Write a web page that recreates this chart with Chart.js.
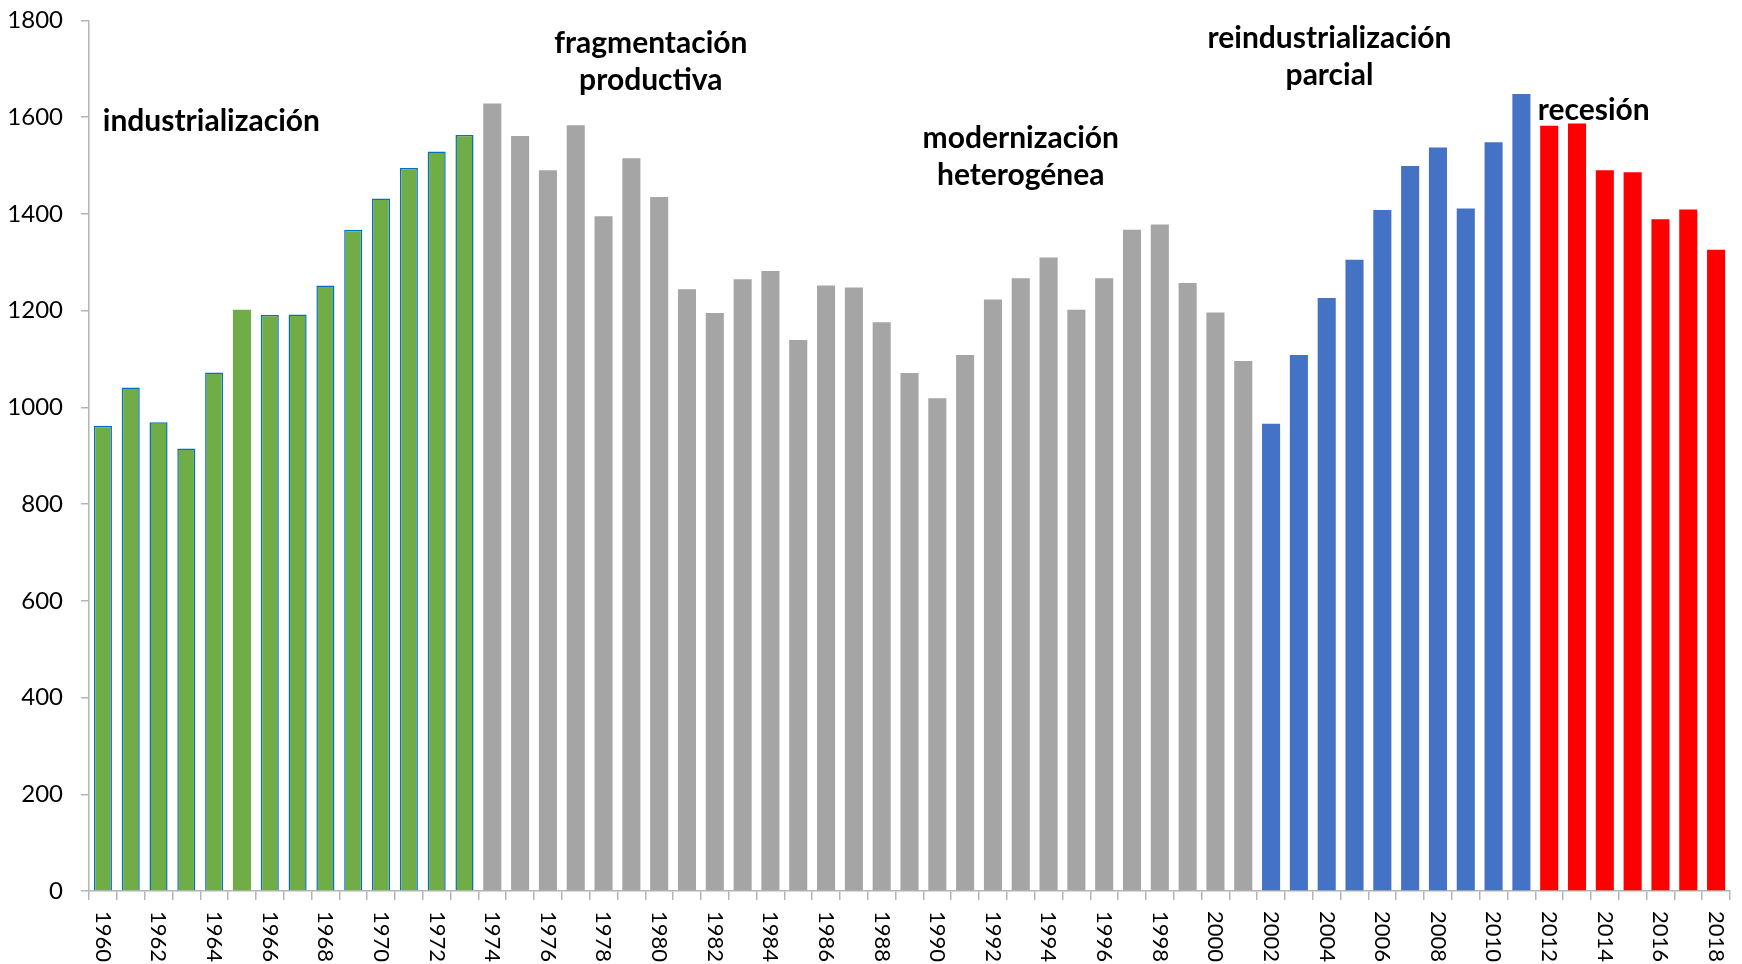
<!DOCTYPE html>
<html>
<head>
<meta charset="utf-8">
<script src="https://cdn.jsdelivr.net/npm/chart.js@4.4.0/dist/chart.umd.min.js"></script>
<style>
  html, body { margin: 0; padding: 0; background: #fff; overflow: hidden; }
  #wrap { width: 1742px; height: 976px; position: relative; margin-top: -12px; }
</style>
</head>
<body>
<div id="wrap"><canvas id="chart"></canvas></div>
<script>
// years 1960..2018
const years = [
  1960, 1961, 1962, 1963, 1964, 1965, 1966, 1967, 1968, 1969,
  1970, 1971, 1972, 1973, 1974, 1975, 1976, 1977, 1978, 1979,
  1980, 1981, 1982, 1983, 1984, 1985, 1986, 1987, 1988, 1989,
  1990, 1991, 1992, 1993, 1994, 1995, 1996, 1997, 1998, 1999,
  2000, 2001, 2002, 2003, 2004, 2005, 2006, 2007, 2008, 2009,
  2010, 2011, 2012, 2013, 2014, 2015, 2016, 2017, 2018
];

const values = [
  962, 1041, 969, 915, 1072, 1202, 1191, 1192, 1252, 1367,
  1432, 1495, 1529, 1563, 1628, 1561, 1490, 1583, 1395, 1515,
  1435, 1244, 1195, 1265, 1282, 1139, 1252, 1248, 1176, 1071,
  1019, 1108, 1223, 1267, 1310, 1202, 1267, 1367, 1378, 1257,
  1196, 1096, 966, 1108, 1226, 1305, 1408, 1499, 1537, 1411,
  1548, 1648, 1582, 1587, 1490, 1486, 1389, 1409, 1326
];

// first year of each period and its colour
const periodStart = [1960, 1974, 2002, 2012];
const periodColor = ['#70AD47', '#A5A5A5', '#4472C4', '#FF0000'];

// annotation text, anchored in data space (category index, value)
const notes = [
  { lines: ['industrialización'], x: 3.9, y: 1592 },
  { lines: ['fragmentación', 'productiva'], x: 19.7, y: 1753 },
  { lines: ['modernización', 'heterogénea'], x: 33.0, y: 1557 },
  { lines: ['reindustrialización', 'parcial'], x: 44.1, y: 1763 },
  { lines: ['recesión'], x: 53.6, y: 1614 }
];

function periodOf(yr) {
  let p = 0;
  periodStart.forEach((s, i) => { if (yr >= s) p = i; });
  return p;
}

const fills = years.map(y => periodColor[periodOf(y)]);
const borders = years.map(y => periodOf(y) === 0 ? '#0070C0' : periodColor[periodOf(y)]);
const borderW = years.map(y => (periodOf(y) === 0 && y !== 1965) ? 1.5 : 0);

const FONT = 'Lato, "Open Sans", sans-serif';

const yearLabels = {
  id: 'yearLabels',
  afterDraw(chart) {
    const xs = chart.scales.x;
    const ctx = chart.ctx;
    ctx.save();
    ctx.fillStyle = '#000';
    ctx.font = '22px ' + FONT;
    ctx.textAlign = 'left';
    ctx.textBaseline = 'middle';
    years.forEach((yr, i) => {
      if (yr % 2 !== 0) return;
      const px = xs.getPixelForTick(i);
      ctx.save();
      ctx.translate(px, xs.top + 20);
      ctx.rotate(Math.PI / 2);
      ctx.fillText(String(yr), 0, 0);
      ctx.restore();
    });
    ctx.restore();
  }
};

const periodNotes = {
  id: 'periodNotes',
  afterDatasetsDraw(chart) {
    const xs = chart.scales.x;
    const ys = chart.scales.y;
    const ctx = chart.ctx;
    ctx.save();
    ctx.fillStyle = '#000';
    ctx.font = 'bold 30px ' + FONT;
    ctx.textAlign = 'center';
    ctx.textBaseline = 'middle';
    const lh = 37;
    for (const n of notes) {
      const cx = xs.getPixelForValue(n.x);
      const cy = ys.getPixelForValue(n.y);
      n.lines.forEach((t, k) => ctx.fillText(t, cx, cy + k * lh));
    }
    ctx.restore();
  }
};

new Chart(document.getElementById('chart'), {
  type: 'bar',
  data: {
    labels: years.map(String),
    datasets: [{
      data: values,
      backgroundColor: fills,
      borderColor: borders,
      borderWidth: borderW,
      borderSkipped: 'bottom',
      categoryPercentage: 1,
      barPercentage: 0.65
    }]
  },
  options: {
    responsive: true,
    maintainAspectRatio: false,
    animation: false,
    layout: { padding: { top: 7, right: 12, left: 0, bottom: 0 } },
    plugins: {
      legend: { display: false },
      tooltip: { enabled: false }
    },
    scales: {
      x: {
        offset: true,
        grid: {
          offset: true,
          drawOnChartArea: false,
          drawTicks: true,
          tickLength: 9,
          color: '#B4B4B4',
          lineWidth: 1.5
        },
        border: { display: true, color: '#B4B4B4', width: 1.5 },
        ticks: { display: false },
        afterFit(scale) { scale.height = 73; }
      },
      y: {
        min: 0,
        max: 1800,
        grid: {
          drawOnChartArea: false,
          drawTicks: true,
          tickLength: 8,
          color: '#B4B4B4',
          lineWidth: 1.5
        },
        border: { display: true, color: '#B4B4B4', width: 1.5 },
        ticks: {
          stepSize: 200,
          padding: 18,
          color: '#000',
          font: { family: FONT, size: 24 },
          callback: v => String(v)
        },
        afterFit(scale) { scale.width = 89; }
      }
    }
  },
  plugins: [periodNotes, yearLabels]
});
</script>
</body>
</html>
